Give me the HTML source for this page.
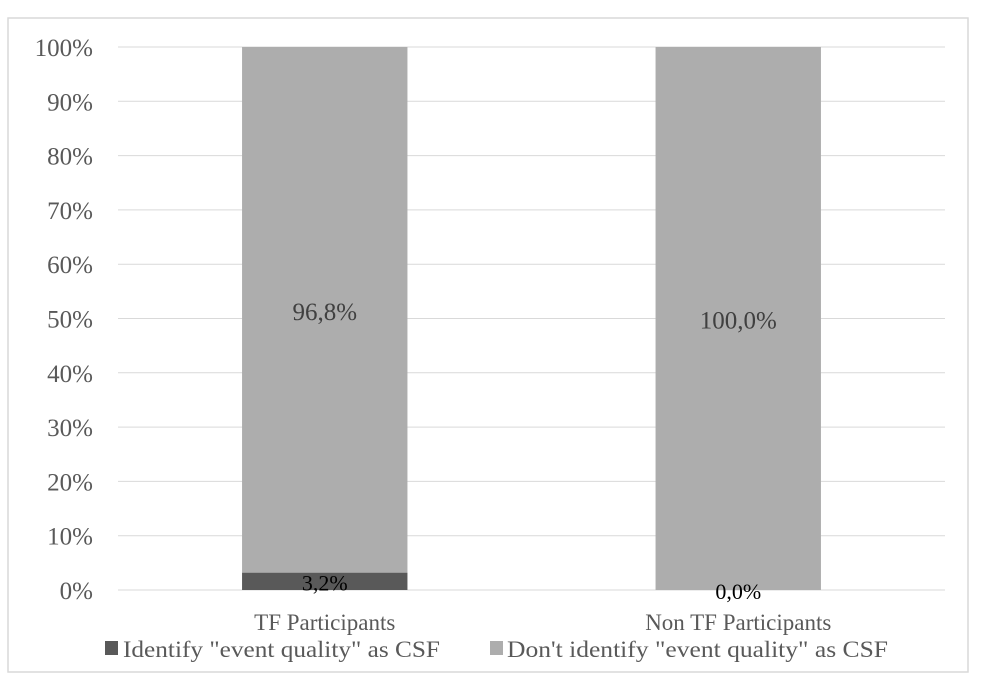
<!DOCTYPE html>
<html><head><meta charset="utf-8"><style>
body{margin:0;background:#fff;}
svg text{font-family:"Liberation Serif",serif;}
</style></head><body>
<svg id="chart" width="981" height="690" xmlns="http://www.w3.org/2000/svg">
<rect x="8" y="18" width="960" height="654" fill="#fff" stroke="#d9d9d9" stroke-width="1.5"/>
<g id="grid"></g><g id="bars"></g><g id="labels"></g>
<g>
<rect x="105" y="641" width="13" height="14" fill="#595959"/>
<text x="123" y="657" font-size="23" fill="#595959" textLength="317" lengthAdjust="spacingAndGlyphs">Identify "event quality" as CSF</text>
<rect x="490" y="641" width="13" height="14" fill="#adadad"/>
<text x="507" y="657" font-size="23" fill="#595959" textLength="381" lengthAdjust="spacingAndGlyphs">Don't identify "event quality" as CSF</text>
</g>
</svg>
<script>
const categories=["TF Participants","Non TF Participants"];
const identify=[3.2,0.0];
const dontIdentify=[96.8,100.0];
const identifyLabels=["3,2%","0,0%"];
const dontLabels=["96,8%","100,0%"];
const yTicks=[0,10,20,30,40,50,60,70,80,90,100];
const NS="http://www.w3.org/2000/svg";
const x0=118,x1=945,y0=590,y1=47;
const band=(x1-x0)/categories.length;
const yS=v=>y0-(v/100)*(y0-y1);
const xC=i=>x0+band*(i+0.5);
const bw=band*0.4;
function mk(tag,attrs,parent){const e=document.createElementNS(NS,tag);for(const k in attrs)e.setAttribute(k,attrs[k]);document.getElementById(parent).appendChild(e);return e;}
yTicks.forEach(t=>{
 const l=mk('line',{x1:x0,x2:x1,y1:yS(t),y2:yS(t),stroke:'#d9d9d9','stroke-width':1},'grid');
 
 
 const tx=mk('text',{x:93,y:yS(t)+9,'font-size':25,fill:'#595959','text-anchor':'end'},'labels');
 tx.textContent=t+'%';
 
 
});
categories.forEach((c,i)=>{
 const cx=xC(i);
 const a=mk('rect',{x:cx-bw/2,y:yS(identify[i]),width:bw,height:y0-yS(identify[i]),fill:'#595959'},'bars');
 
 
 const b=mk('rect',{x:cx-bw/2,y:yS(identify[i]+dontIdentify[i]),width:bw,height:yS(identify[i])-yS(identify[i]+dontIdentify[i]),fill:'#adadad'},'bars');
 
 
 const t1=mk('text',{x:cx,y:(yS(identify[i])+y0)/2+9,'font-size':22,fill:'#000','text-anchor':'middle'},'labels');
 t1.textContent=identifyLabels[i];
 
 
 const mid=(yS(identify[i])+yS(identify[i]+dontIdentify[i]))/2;
 const t2=mk('text',{x:cx,y:mid+10,'font-size':25,fill:'#404040','text-anchor':'middle'},'labels');
 t2.textContent=dontLabels[i];
 
 
 const t3=mk('text',{x:cx,y:630,'font-size':23,fill:'#595959','text-anchor':'middle'},'labels');
 t3.textContent=c;
 
 
});
</script>
</body></html>
